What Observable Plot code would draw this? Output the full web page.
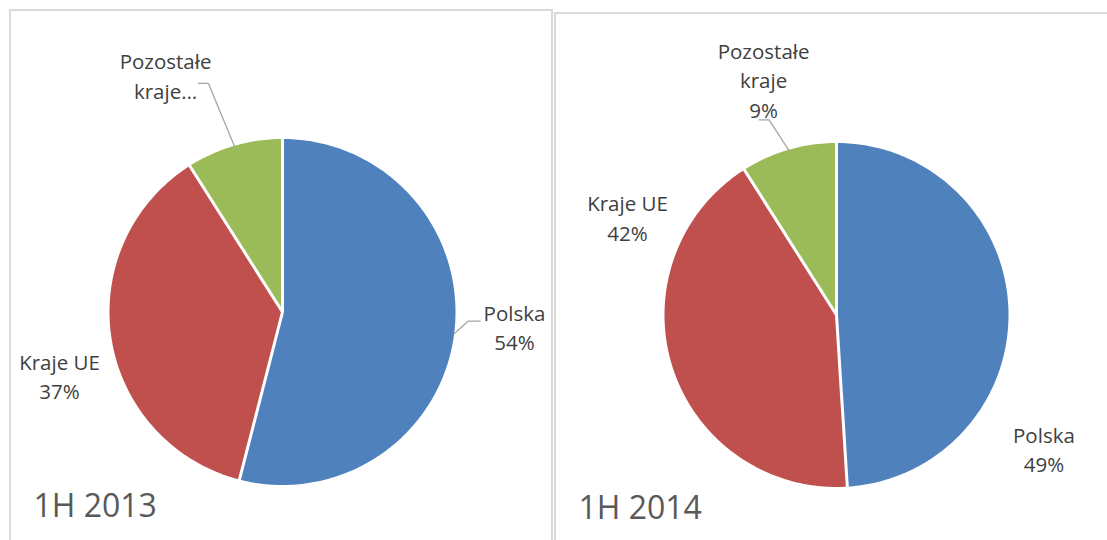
<!DOCTYPE html>
<html><head><meta charset="utf-8">
<script src="https://cdn.jsdelivr.net/npm/d3@7"></script>
<script src="https://cdn.jsdelivr.net/npm/@observablehq/plot@0.6"></script>
<style>
html,body{margin:0;padding:0;background:#fff;overflow:hidden;}
body{width:1107px;height:540px;position:relative;font-family:"Open Sans",sans-serif;}
.panel{position:absolute;border:2px solid #d9d9d9;box-sizing:border-box;overflow:hidden;background:#fff;}
.panel svg{display:block;}
</style></head><body>
<div id="p1" class="panel" style="left:9px;top:9px;width:544px;height:560px"></div>
<div id="p2" class="panel" style="left:554px;top:12px;width:570px;height:560px"></div>
<script>
// ---- data ----
const categories = ["Polska", "Kraje UE", "Pozostałe kraje"];
const periods = ["1H 2013", "1H 2014"];
const shares2013 = [54, 37, 9];
const shares2014 = [49, 42, 9];
const labelNames2013 = ["Polska", "Kraje UE", "Pozostałe\nkraje…"];
const labelNames2014 = ["Polska", "Kraje UE", "Pozostałe\nkraje"];
const showPct2013 = [true, true, false];
const showPct2014 = [true, true, true];
const sliceColors = ["#4F81BD", "#C0504D", "#9BBB59"];

// ---- layout (positions in pie-radius units) ----
const layout = [
  {panel: "p1", period: periods[0], values: shares2013, names: labelNames2013, pct: showPct2013,
   width: 540, height: 529, cx: 271, cy: 300.5, r: 173, titleDx: 22, titleDy: -24,
   labelPos: [[1.341, -0.22], [-1.289, -0.502], [-0.676, 1.234]],
   leaders: [[[1.142, -0.053], [1.073, -0.053]], null, [[-0.486, 1.321], [-0.428, 1.321]]]},
  {panel: "p2", period: periods[1], values: shares2014, names: labelNames2014, pct: showPct2014,
   width: 551, height: 526, cx: 280, cy: 300.5, r: 172, titleDx: 22, titleDy: -22,
   labelPos: [[1.206, -0.914], [-1.215, 0.433], [-0.424, 1.148]],
   leaders: [null, null, [[-0.449, 1.135], [-0.392, 1.135]]]}
];

function drawPie(L) {
  const arcs = d3.pie().sort(null).value(d => d)(L.values);
  // slice polygons
  const poly = [];
  arcs.forEach((a, i) => {
    const n = Math.max(8, Math.ceil((a.endAngle - a.startAngle) / (Math.PI * 2) * 360));
    poly.push({cat: categories[i], color: sliceColors[i], x: 0, y: 0});
    for (let k = 0; k <= n; k++) {
      const t = a.startAngle + (a.endAngle - a.startAngle) * k / n;
      poly.push({cat: categories[i], color: sliceColors[i], x: Math.sin(t), y: Math.cos(t)});
    }
    poly.push({cat: categories[i], color: sliceColors[i], x: 0, y: 0});
  });
  // separators at slice boundaries
  const seps = arcs.map(a => ({x1: 0, y1: 0, x2: Math.sin(a.startAngle) * 1.01, y2: Math.cos(a.startAngle) * 1.01}));
  // labels
  const labels = arcs.map((a, i) => ({
    x: L.labelPos[i][0], y: L.labelPos[i][1],
    text: L.names[i] + (L.pct[i] ? "\n" + L.values[i] + "%" : "")
  }));
  // leaders
  const leaderPts = [];
  arcs.forEach((a, i) => {
    const ld = L.leaders[i];
    if (!ld) return;
    const mid = (a.startAngle + a.endAngle) / 2;
    leaderPts.push({id: i, x: ld[0][0], y: ld[0][1]});
    leaderPts.push({id: i, x: ld[1][0], y: ld[1][1]});
    leaderPts.push({id: i, x: Math.sin(mid), y: Math.cos(mid)});
  });

  const chart = Plot.plot({
    width: L.width, height: L.height, margin: 0,
    x: {domain: [-1, 1], range: [L.cx - L.r, L.cx + L.r], axis: null},
    y: {domain: [-1, 1], range: [L.cy + L.r, L.cy - L.r], axis: null},
    color: {type: "identity"},
    style: {fontFamily: "'Open Sans', sans-serif", background: "transparent", overflow: "visible"},
    marks: [
      Plot.line(poly, {x: "x", y: "y", z: "cat", fill: "color", stroke: "none", curve: "linear"}),
      Plot.link(seps, {x1: "x1", y1: "y1", x2: "x2", y2: "y2", stroke: "white", strokeWidth: 3}),
      Plot.line(leaderPts, {x: "x", y: "y", z: "id", stroke: "#A6A6A6", strokeWidth: 1.3, curve: "linear"}),
      Plot.text(labels, {x: "x", y: "y", text: "text", fontSize: 20.5, lineAnchor: "bottom", lineHeight: 1.42, fill: "#404040", textAnchor: "middle"}),
      Plot.text([L.period], {frameAnchor: "bottom-left", text: d => d, dx: L.titleDx, dy: L.titleDy, lineAnchor: "bottom", textAnchor: "start", fontSize: 32, fill: "#595959"})
    ]
  });
  document.getElementById(L.panel).appendChild(chart);
}
layout.forEach(drawPie);
</script>
</body></html>
